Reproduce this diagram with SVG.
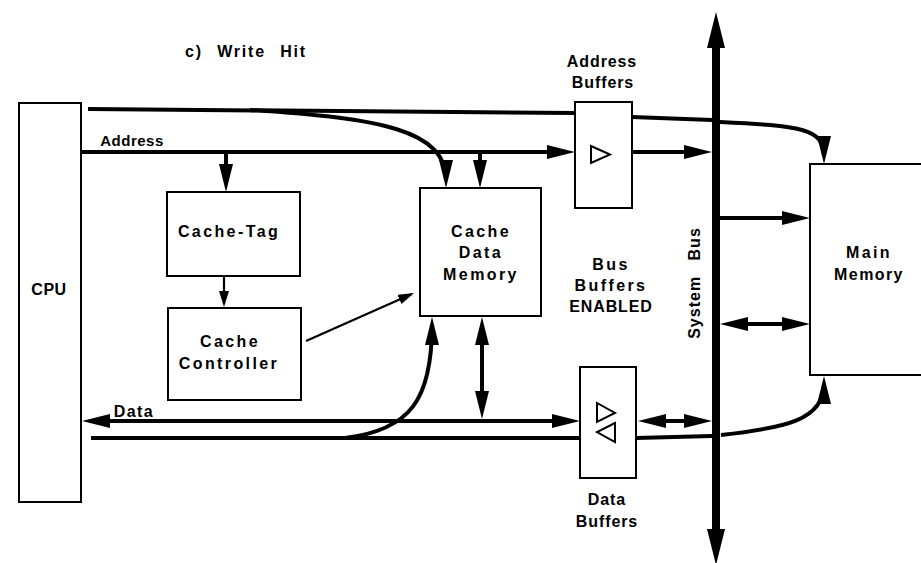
<svg xmlns="http://www.w3.org/2000/svg" width="921" height="563" viewBox="0 0 921 563">
<style>
  .box { fill: #fff; stroke: #000; stroke-width: 2; }
  .tri { fill: none; stroke: #000; stroke-width: 2; stroke-linejoin: miter; }
  .w { fill: none; stroke: #000; stroke-width: 4; }
  .t { fill: none; stroke: #000; stroke-width: 2.2; }
  .bus { fill: none; stroke: #000; stroke-width: 8; }
  text { font-family: "Liberation Sans", Arial, sans-serif; font-weight: bold; font-size: 16px; fill: #000; text-anchor: middle; }
  .ls1 { letter-spacing: 0.5px; }
  .ls15 { letter-spacing: 0.9px; }
  .ls2 { letter-spacing: 1.4px; }
  .ls3 { letter-spacing: 2.4px; }
</style>
<defs>
  <marker id="ah" markerUnits="userSpaceOnUse" viewBox="0 0 28 14" markerWidth="28" markerHeight="14" refX="20" refY="7" orient="auto-start-reverse">
    <path d="M0,0 L28,7 L0,14 z" fill="#000"/>
  </marker>
  <marker id="ahs" markerUnits="userSpaceOnUse" viewBox="0 0 16 10" markerWidth="16" markerHeight="10" refX="13" refY="5" orient="auto-start-reverse">
    <path d="M0,0 L16,5 L0,10 z" fill="#000"/>
  </marker>
  <marker id="ahb" markerUnits="userSpaceOnUse" viewBox="0 0 36 18" markerWidth="36" markerHeight="18" refX="20" refY="9" orient="auto-start-reverse">
    <path d="M0,0 L36,9 L0,18 z" fill="#000"/>
  </marker>
</defs>
<rect width="921" height="563" fill="#fff"/>

<text x="246" y="57" style="letter-spacing:1.8px; word-spacing:8px">c) Write Hit</text>

<g id="connectors">
  <!-- top line -->
  <path class="w" d="M88 109 L575 113"/>
  <path class="w" d="M632 117 L712 120"/>
  <path class="w" d="M720 122 C800 126, 824 128, 824 156" marker-end="url(#ah)"/>
  <path class="w" d="M250 110 C380 118, 446 130, 446 180" marker-end="url(#ah)"/>
  <!-- address line -->
  <path class="w" d="M81 152 H567" marker-end="url(#ah)"/>
  <path class="w" d="M632 152 H704" marker-end="url(#ah)"/>
  <path class="w" d="M226 152 V184" marker-end="url(#ah)"/>
  <path class="w" d="M480 152 V180" marker-end="url(#ah)"/>
  <!-- tag to controller, controller to data memory -->
  <path class="t" d="M224 276 V304" marker-end="url(#ahs)"/>
  <path class="t" d="M306 341 L411.3 294.2" marker-end="url(#ahs)"/>
  <!-- system bus -->
  <path class="bus" d="M716 28 V549" marker-start="url(#ahb)" marker-end="url(#ahb)"/>
  <!-- bus to main memory -->
  <path class="w" d="M720 218 H802" marker-end="url(#ah)"/>
  <path class="w" d="M728 324 H802" marker-start="url(#ah)" marker-end="url(#ah)"/>
  <!-- data lines -->
  <path class="w" d="M90 421 H572" marker-start="url(#ah)" marker-end="url(#ah)"/>
  <path class="w" d="M91 438 H580"/>
  <path class="w" d="M345 438 C410 430, 432 400, 432 325" marker-end="url(#ah)"/>
  <path class="w" d="M482 325 V411" marker-start="url(#ah)" marker-end="url(#ah)"/>
  <path class="w" d="M646 421 H704" marker-start="url(#ah)" marker-end="url(#ah)"/>
  <path class="w" d="M636 438 L712 436"/>
  <path class="w" d="M721 435 C785 428, 824 420, 824 384" marker-end="url(#ah)"/>
  <text x="132" y="146" class="ls1" style="font-size:15px">Address</text>
  <text x="134" y="417" class="ls2">Data</text>
</g>

<g id="cpu">
  <rect class="box" x="19" y="103" width="62" height="399"/>
  <text x="49" y="295" class="ls1">CPU</text>
</g>

<g id="cache-tag">
  <rect class="box" x="167" y="192" width="133" height="84"/>
  <text x="229" y="237" class="ls3">Cache-Tag</text>
</g>

<g id="cache-controller">
  <rect class="box" x="168" y="308" width="133" height="92"/>
  <text x="230" y="347" class="ls3">Cache</text>
  <text x="229" y="369" class="ls3">Controller</text>
</g>

<g id="cache-data-memory">
  <rect class="box" x="420" y="188" width="121" height="128"/>
  <text x="481" y="237" class="ls3">Cache</text>
  <text x="481" y="258" class="ls3">Data</text>
  <text x="481" y="280" class="ls3">Memory</text>
</g>

<g id="address-buffers">
  <rect class="box" x="575" y="102" width="57" height="106"/>
  <path class="tri" d="M591 146 L610 154.5 L591 163 Z"/>
  <text x="602" y="67" class="ls15">Address</text>
  <text x="603" y="88" class="ls15">Buffers</text>
</g>

<g id="bus-buffers-label">
  <text x="611" y="270" class="ls3">Bus</text>
  <text x="611" y="291" class="ls3">Buffers</text>
  <text x="611" y="312" class="ls15">ENABLED</text>
</g>

<g id="data-buffers">
  <rect class="box" x="580" y="367" width="56" height="111"/>
  <path class="tri" d="M597 403 L615 413 L597 422 Z"/>
  <path class="tri" d="M615 423 L597 432 L615 442 Z"/>
  <text x="607" y="505" class="ls15">Data</text>
  <text x="607" y="527" class="ls15">Buffers</text>
</g>

<g id="system-bus-label">
  <text transform="translate(700 283) rotate(-90)" style="letter-spacing:1px; word-spacing:10px">System Bus</text>
</g>

<g id="main-memory">
  <rect class="box" x="810" y="164" width="130" height="211"/>
  <text x="869" y="258" class="ls3">Main</text>
  <text x="869" y="280" class="ls2">Memory</text>
</g>
</svg>
